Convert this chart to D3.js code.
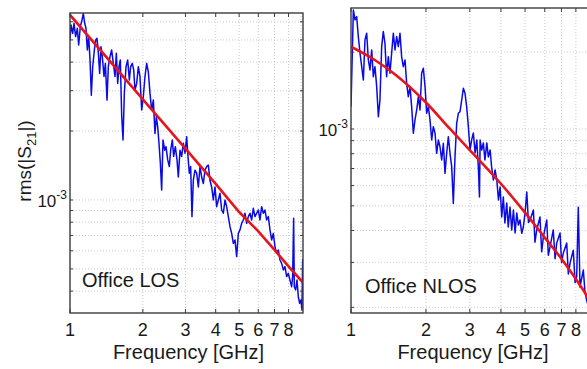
<!DOCTYPE html>
<html lang="en">
<head>
<meta charset="UTF-8">
<title>rms(|S21|) vs frequency</title>
<script src="https://cdnjs.cloudflare.com/ajax/libs/d3/7.8.5/d3.min.js"></script>
<style>
    body { margin: 0; background: #fff; }
    svg { display: block; font-family: "Liberation Sans", Arial, sans-serif; }
</style>
</head>
<body>
<svg width="587" height="369"></svg>
<script>
"use strict";

// rms values are in units of 1e-3, frequencies in GHz

// Office LOS, measured
const losFreq = [1.000, 1.010, 1.026, 1.039, 1.055, 1.072, 1.086, 1.103, 1.121, 1.135, 1.150, 1.164, 1.179, 1.194, 1.210, 1.225, 1.241, 1.261, 1.277, 1.293,
    1.310, 1.326, 1.343, 1.360, 1.382, 1.400, 1.422, 1.440, 1.463, 1.486, 1.510, 1.535, 1.554, 1.574, 1.594, 1.614, 1.635, 1.656, 1.677, 1.704,
    1.731, 1.759, 1.781, 1.809, 1.833, 1.856, 1.886, 1.916, 1.946, 1.978, 2.009, 2.041, 2.074, 2.107, 2.141, 2.175, 2.210, 2.245, 2.274, 2.303,
    2.332, 2.362, 2.392, 2.423, 2.462, 2.493, 2.533, 2.573, 2.606, 2.648, 2.681, 2.724, 2.768, 2.803, 2.848, 2.893, 2.940, 2.987, 3.035, 3.073,
    3.112, 3.152, 3.192, 3.233, 3.285, 3.337, 3.391, 3.445, 3.500, 3.556, 3.613, 3.670, 3.729, 3.789, 3.849, 3.911, 3.974, 4.037, 4.102, 4.167,
    4.234, 4.302, 4.370, 4.440, 4.511, 4.583, 4.656, 4.731, 4.806, 4.883, 4.961, 5.041, 5.121, 5.203, 5.286, 5.370, 5.456, 5.543, 5.632, 5.722,
    5.813, 5.906, 6.000, 6.096, 6.194, 6.293, 6.393, 6.495, 6.599, 6.705, 6.812, 6.921, 7.031, 7.144, 7.258, 7.374, 7.492, 7.612, 7.733, 7.857,
    7.983, 8.110, 8.240, 8.318, 8.398, 8.451, 8.559, 8.670, 8.780, 8.892, 9.006, 9.092, 9.150, 9.180];
const losRms = [5.00, 5.81, 5.34, 5.91, 5.17, 5.62, 4.75, 5.71, 6.11, 6.53, 5.91, 5.62, 4.52, 5.17, 4.09, 2.87, 3.82, 4.52, 5.00, 5.08,
    4.37, 3.57, 4.67, 4.23, 3.46, 3.95, 2.73, 3.82, 4.23, 4.52, 3.95, 3.46, 4.37, 3.23, 3.82, 4.09, 2.35, 1.83, 2.92, 3.82,
    4.09, 3.34, 3.82, 3.95, 3.70, 3.02, 3.23, 3.82, 3.46, 2.47, 2.83, 3.46, 3.95, 3.63, 2.92, 2.47, 2.73, 1.95, 2.31, 2.09,
    1.77, 1.45, 1.106, 1.83, 1.65, 1.71, 1.50, 1.40, 1.65, 1.83, 1.55, 1.71, 1.50, 1.26, 1.65, 1.55, 1.77, 1.60, 1.89, 1.55,
    1.31, 1.40, 0.846, 1.22, 1.35, 1.31, 1.14, 1.40, 1.26, 1.18, 1.35, 1.40, 1.42, 1.22, 1.14, 1.00, 1.14, 0.935, 1.00, 1.07,
    0.904, 0.875, 1.00, 0.935, 0.846, 0.765, 0.715, 0.647, 0.669, 0.566, 0.715, 0.740, 0.791, 0.818, 0.875, 0.791, 0.846, 0.875, 0.818, 0.920,
    0.846, 0.875, 0.904, 0.818, 0.935, 0.875, 0.904, 0.818, 0.846, 0.740, 0.669, 0.715, 0.626, 0.585, 0.605, 0.547, 0.529, 0.495, 0.512, 0.463,
    0.478, 0.447, 0.418, 0.463, 0.832, 0.418, 0.405, 0.447, 0.378, 0.354, 0.366, 0.331, 0.547, 0.391];

// Office LOS, fitted
const losFitFreq = [1, 2, 3, 4, 5, 6, 7, 8, 9.18];
const losFitRms = [6.43, 2.75, 1.675, 1.175, 0.886, 0.730, 0.605, 0.513, 0.436];

// Office NLOS, measured
const nlosFreq = [1.000, 1.022, 1.038, 1.054, 1.070, 1.087, 1.104, 1.121, 1.138, 1.156, 1.174, 1.192, 1.211, 1.229, 1.248, 1.268, 1.288, 1.307, 1.328, 1.348,
    1.369, 1.390, 1.412, 1.434, 1.456, 1.479, 1.502, 1.525, 1.549, 1.573, 1.597, 1.622, 1.648, 1.673, 1.699, 1.726, 1.752, 1.780, 1.807, 1.836,
    1.864, 1.893, 1.922, 1.952, 1.983, 2.013, 2.045, 2.076, 2.109, 2.141, 2.175, 2.208, 2.243, 2.277, 2.313, 2.349, 2.385, 2.422, 2.460, 2.498,
    2.537, 2.576, 2.616, 2.657, 2.698, 2.740, 2.783, 2.826, 2.870, 2.914, 2.960, 3.006, 3.052,
    3.10, 3.15, 3.20, 3.25, 3.28, 3.30, 3.35, 3.40, 3.45, 3.51, 3.56, 3.62, 3.67, 3.73, 3.79, 3.85, 3.91, 3.97, 4.03, 4.09,
    4.15, 4.22, 4.28, 4.35, 4.42, 4.49, 4.56, 4.63, 4.70, 4.77, 4.85, 4.92, 5.00, 5.08, 5.16, 5.24, 5.40, 5.48, 5.57, 5.74,
    5.83, 5.92, 6.11, 6.20, 6.30, 6.49, 6.60, 6.70, 6.91, 7.01, 7.12, 7.35, 7.46, 7.58, 7.81, 7.94, 8.06, 8.18, 8.31, 8.44,
    8.57, 8.70, 8.84, 9.00, 9.12];
const nlosRms = [1.224, 2.929, 2.677, 2.757, 2.302, 1.981, 1.755, 1.557, 2.234, 2.372, 1.865, 1.704, 2.041, 1.604, 1.755, 1.466, 1.118, 1.299, 2.103, 2.408,
    2.167, 1.604, 1.921, 1.653, 1.981, 2.372, 2.041, 2.302, 2.103, 2.372, 1.921, 1.755, 1.865, 1.510, 1.339, 1.466, 1.224, 0.962, 1.085, 1.187,
    1.339, 1.187, 1.653, 1.729, 1.466, 1.152, 1.224, 1.085, 0.906, 1.021, 0.962, 0.803, 0.906, 0.852, 0.756, 0.879, 0.670, 0.803, 0.933, 0.803,
    0.712, 0.511, 0.779, 1.052, 1.152, 1.169, 1.299, 1.443, 1.380, 1.224, 1.021, 0.827, 0.906,
    0.964, 0.805, 0.905, 0.691, 0.541, 0.905, 0.827, 0.882, 0.756, 0.882, 0.777, 0.827, 0.710, 0.631, 0.691, 0.631, 0.527, 0.593, 0.452, 0.541,
    0.428, 0.513, 0.413, 0.494, 0.402, 0.481, 0.391, 0.468, 0.420, 0.440, 0.390, 0.413, 0.468, 0.566, 0.430, 0.440, 0.481, 0.360, 0.402, 0.452,
    0.330, 0.377, 0.440, 0.320, 0.345, 0.402, 0.310, 0.357, 0.391, 0.300, 0.326, 0.357, 0.270, 0.298, 0.335, 0.250, 0.263, 0.494, 0.240, 0.260,
    0.280, 0.230, 0.213, 0.200, 0.205];

// Office NLOS, fitted
const nlosFitFreq = [1, 1.25, 1.5, 2, 2.5, 3, 4, 5, 6, 7, 8, 8.87, 9.2];
const nlosFitRms = [2.10, 1.86, 1.64, 1.27, 1.00, 0.827, 0.61, 0.47, 0.375, 0.31, 0.258, 0.221, 0.207];

const freqTicks = [1, 2, 3, 4, 5, 6, 7, 8];

const svg = d3.select("svg");
svg.append("rect").attr("width", 587).attr("height", 369).attr("fill", "#fff");

function zip(a, b) {
    return a.map((v, i) => [v, b[i]]);
}

function drawPanel(p) {
    const x = d3.scaleLog().domain(p.xDomain).range(p.xRange);
    const y = d3.scaleLog().domain(p.yDomain).range(p.yRange);
    const [x0, x1] = p.xRange;
    const [y1, y0] = p.yRange;

    svg.append("clipPath").attr("id", "clip-" + p.id)
        .append("rect")
        .attr("x", x0).attr("y", y0)
        .attr("width", x1 - x0).attr("height", y1 - y0);

    const g = svg.append("g").attr("clip-path", `url(#clip-${p.id})`);

    // dotted grid, major and minor
    g.selectAll(".gx").data(x.ticks()).enter().append("line")
        .attr("x1", d => x(d)).attr("x2", d => x(d))
        .attr("y1", y0).attr("y2", y1)
        .attr("stroke", "#bdbdbd").attr("stroke-width", 0.8)
        .attr("stroke-dasharray", "1,2");
    g.selectAll(".gy").data(y.ticks()).enter().append("line")
        .attr("x1", x0).attr("x2", x1)
        .attr("y1", d => y(d)).attr("y2", d => y(d))
        .attr("stroke", "#bdbdbd").attr("stroke-width", 0.8)
        .attr("stroke-dasharray", "1,2");

    const line = d3.line().x(d => x(d[0])).y(d => y(d[1]));

    g.append("path")
        .datum(zip(p.freq, p.rms))
        .attr("d", line)
        .attr("fill", "none")
        .attr("stroke", "#0a0ae6")
        .attr("stroke-width", 1.5)
        .attr("stroke-linejoin", "round");

    g.append("path")
        .datum(zip(p.fitFreq, p.fitRms))
        .attr("d", line.curve(p.curve))
        .attr("fill", "none")
        .attr("stroke", "#e8141b")
        .attr("stroke-width", 2.6);

    // frame and inside ticks
    const ax = svg.append("g").attr("stroke", "#3c3c3c");
    ax.selectAll(".tb").data(freqTicks).enter().append("line")
        .attr("x1", d => x(d)).attr("x2", d => x(d))
        .attr("y1", y1).attr("y2", y1 - 4);
    ax.selectAll(".tt").data(freqTicks).enter().append("line")
        .attr("x1", d => x(d)).attr("x2", d => x(d))
        .attr("y1", y0).attr("y2", y0 + 4);
    ax.selectAll(".tl").data(y.ticks()).enter().append("line")
        .attr("x1", x0).attr("x2", x0 + 3)
        .attr("y1", d => y(d)).attr("y2", d => y(d));
    ax.selectAll(".tr").data(y.ticks()).enter().append("line")
        .attr("x1", x1).attr("x2", x1 - 3)
        .attr("y1", d => y(d)).attr("y2", d => y(d));
    ax.append("rect")
        .attr("x", x0).attr("y", y0)
        .attr("width", x1 - x0).attr("height", y1 - y0)
        .attr("fill", "none").attr("stroke-width", 1.4);

    // tick labels
    svg.selectAll(null).data(freqTicks).enter().append("text")
        .attr("x", d => x(d)).attr("y", y1 + 23)
        .attr("text-anchor", "middle")
        .attr("font-size", 18).attr("fill", "#1a1a1a")
        .text(d => d);

    const yl = svg.append("text")
        .attr("x", x0 - 3).attr("y", y(1) + 7)
        .attr("text-anchor", "end")
        .attr("font-size", 17).attr("fill", "#1a1a1a");
    yl.append("tspan").text("10");
    yl.append("tspan").attr("dy", -8).attr("font-size", 12).text("-3");

    svg.append("text")
        .attr("x", (x0 + x1) / 2 + 2).attr("y", y1 + 46)
        .attr("text-anchor", "middle")
        .attr("font-size", 20).attr("fill", "#1a1a1a")
        .text("Frequency [GHz]");

    svg.append("text")
        .attr("x", p.labelPos[0]).attr("y", p.labelPos[1])
        .attr("font-size", 20).attr("fill", "#1a1a1a")
        .text(p.label);
}

drawPanel({
    id: "los",
    xDomain: [1, 9.18], xRange: [70, 303],
    yDomain: [0.321, 6.555], yRange: [313, 13],
    freq: losFreq, rms: losRms,
    fitFreq: losFitFreq, fitRms: losFitRms,
    curve: d3.curveLinear,
    label: "Office LOS", labelPos: [82, 287],
});

drawPanel({
    id: "nlos",
    xDomain: [1, 9.2], xRange: [351, 591],
    yDomain: [0.190, 2.98], yRange: [313, 8],
    freq: nlosFreq, rms: nlosRms,
    fitFreq: nlosFitFreq, fitRms: nlosFitRms,
    curve: d3.curveMonotoneX,
    label: "Office NLOS", labelPos: [365, 293],
});

// y axis title
const yTitle = svg.append("text")
    .attr("transform", "translate(31,161) rotate(-90)")
    .attr("text-anchor", "middle")
    .attr("font-size", 19).attr("fill", "#1a1a1a");
yTitle.append("tspan").text("rms(|S");
yTitle.append("tspan").attr("dy", 5).attr("font-size", 13).text("21");
yTitle.append("tspan").attr("dy", -5).text("|)");
</script>
</body>
</html>
